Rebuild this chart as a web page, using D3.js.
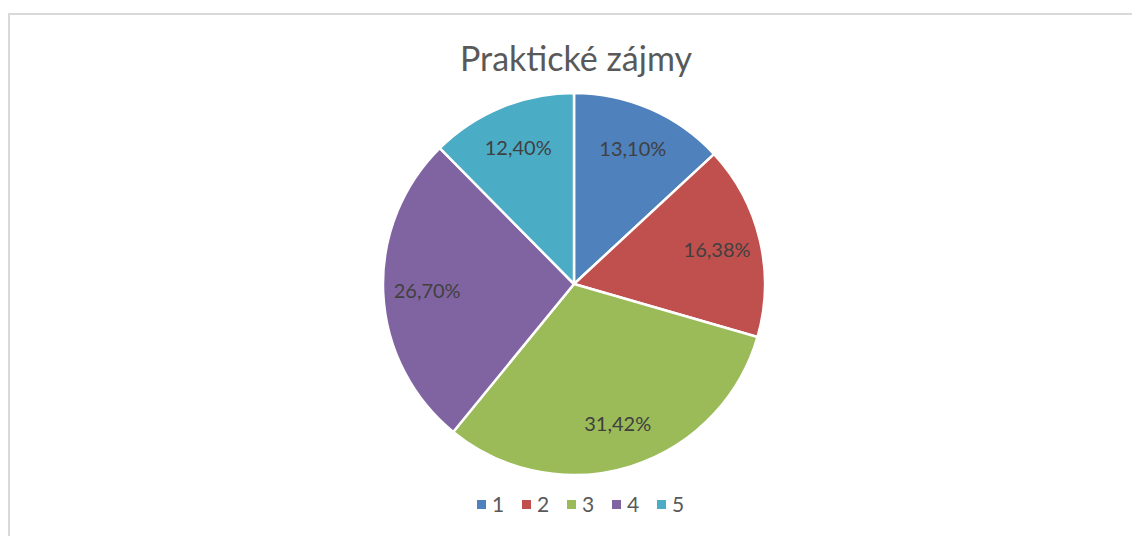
<!DOCTYPE html>
<html>
<head>
<meta charset="utf-8">
<script src="https://cdn.jsdelivr.net/npm/d3@7"></script>
<style>
  html, body { margin: 0; padding: 0; background: #fff; }
  svg { display: block; font-family: Lato, "Open Sans", sans-serif; }
</style>
</head>
<body>
<div id="chart"></div>
<script>
// chart data
const categories = ['1', '2', '3', '4', '5'];
const shares = [13.10, 16.38, 31.42, 26.70, 12.40];
const colors = ['#4F81BD', '#C0504D', '#9BBB59', '#8064A2', '#4BACC6'];
const title = 'Praktické zájmy';

const width = 1132;
const height = 536;
const cx = 574, cy = 284, radius = 191;

const svg = d3.select('#chart').append('svg')
  .attr('width', width)
  .attr('height', height);

// chart area frame (runs off the right and bottom edges)
svg.append('rect')
  .attr('x', 9).attr('y', 14)
  .attr('width', width + 20).attr('height', height + 20)
  .attr('fill', '#fff')
  .attr('stroke', '#d9d9d9')
  .attr('stroke-width', 2);

svg.append('text')
  .attr('x', 576).attr('y', 71)
  .attr('text-anchor', 'middle')
  .attr('font-size', 34)
  .attr('fill', '#595959')
  .text(title);

const rows = categories.map((c, i) => ({ cat: c, value: shares[i], color: colors[i] }));
const pie = d3.pie().value((d) => d.value).sort(null);
const arc = d3.arc().innerRadius(0).outerRadius(radius);
const labelArc = d3.arc().innerRadius(147).outerRadius(147);

const g = svg.append('g').attr('transform', `translate(${cx},${cy})`);
const arcs = pie(rows);

g.selectAll('path.slice')
  .data(arcs)
  .join('path')
  .attr('class', 'slice')
  .attr('d', arc)
  .attr('fill', (d) => d.data.color)
  .attr('stroke', '#fff')
  .attr('stroke-width', 2.5)
  .attr('stroke-linejoin', 'round');

const fmt = (v) => v.toFixed(2).replace('.', ',') + '%';

g.selectAll('text.lbl')
  .data(arcs)
  .join('text')
  .attr('class', 'lbl')
  .attr('transform', (d) => `translate(${labelArc.centroid(d)})`)
  .attr('text-anchor', 'middle')
  .attr('dy', '0.35em')
  .attr('font-size', 20)
  .attr('fill', '#404040')
  .text((d) => fmt(d.data.value));

// legend
const legendX = d3.scalePoint().domain(categories).range([477, 657]);
const leg = svg.append('g');
const item = leg.selectAll('g')
  .data(rows)
  .join('g')
  .attr('transform', (d) => `translate(${legendX(d.cat)},500)`);

item.append('rect')
  .attr('width', 9).attr('height', 9)
  .attr('fill', (d) => d.color);

item.append('text')
  .attr('x', 15).attr('y', 9)
  .attr('dy', '0.15em')
  .attr('font-size', 21)
  .attr('fill', '#595959')
  .text((d) => d.cat);
</script>
</body>
</html>
